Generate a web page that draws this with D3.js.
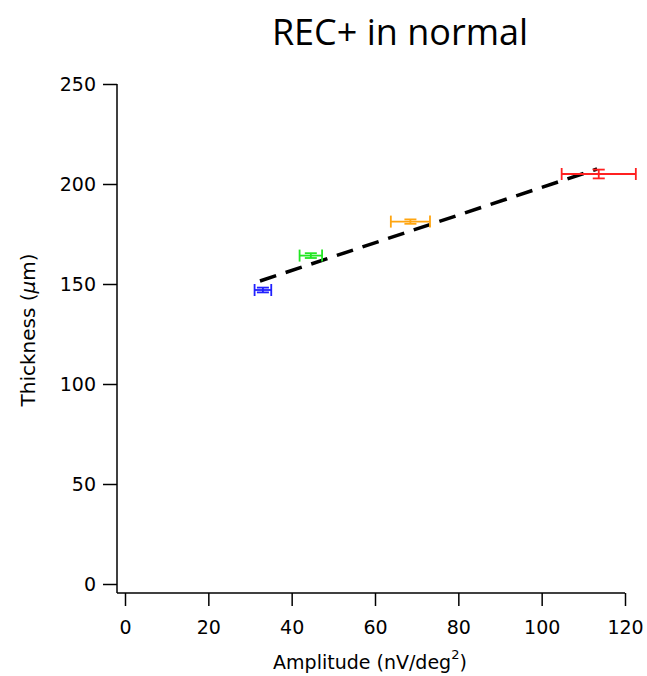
<!DOCTYPE html>
<html>
<head>
<meta charset="utf-8">
<script src="https://cdn.jsdelivr.net/npm/d3@7"></script>
<style>
  html, body { margin: 0; padding: 0; background: #fff; }
  svg text { font-family: "Open Sans", "Noto Sans", sans-serif; fill: #000; }
</style>
</head>
<body>
<svg id="chart" width="647" height="676"></svg>
<script>
// Data
const groups = ["blue", "green", "orange", "red"];
const amplitude = [33.1, 44.6, 68.5, 113.7];
const amplitudeErr = [2.0, 2.7, 4.7, 8.9];
const thickness = [147.0, 164.2, 181.2, 205.0];
const thicknessErr = [1.2, 1.2, 1.1, 2.2];
const colors = ["#2020ff", "#22e622", "#ffa510", "#ff2020"];
const fitX = [32.4, 113.3];
const fitY = [151.5, 207.5];
const xTicks = [0, 20, 40, 60, 80, 100, 120];
const yTicks = [0, 50, 100, 150, 200, 250];

const svg = d3.select("#chart");
const x = d3.scaleLinear().domain([0, 120]).range([125, 625]);
const y = d3.scaleLinear().domain([0, 250]).range([584, 84]);
const axisX0 = 117, axisY0 = 593;
const tickFont = "'DejaVu Sans', sans-serif";

// Title
svg.append("text").attr("x", 400).attr("y", 45)
  .attr("text-anchor", "middle").style("font-size", "36px")
  .text("REC+ in normal");

// Y axis
const yAxis = svg.append("g").attr("transform", `translate(${axisX0},0)`)
  .call(d3.axisLeft(y).tickValues(yTicks).tickSize(14).tickPadding(7).tickSizeOuter(0));
yAxis.select(".domain").remove();
yAxis.append("line").attr("x1", 0).attr("x2", 0).attr("y1", y(250)).attr("y2", axisY0)
  .attr("stroke", "#000").attr("stroke-width", 1.5);
yAxis.selectAll(".tick line").attr("stroke", "#000").attr("stroke-width", 1.5);
yAxis.selectAll(".tick text").style("font-size", "19px").style("font-family", tickFont).attr("fill", "#000");

// X axis
const xAxis = svg.append("g").attr("transform", `translate(0,${axisY0})`)
  .call(d3.axisBottom(x).tickValues(xTicks).tickSize(13).tickPadding(15).tickSizeOuter(0));
xAxis.select(".domain").remove();
xAxis.append("line").attr("x1", axisX0).attr("x2", x(120)).attr("y1", 0).attr("y2", 0)
  .attr("stroke", "#000").attr("stroke-width", 1.5);
xAxis.selectAll(".tick line").attr("stroke", "#000").attr("stroke-width", 1.5);
xAxis.selectAll(".tick text").style("font-size", "19px").style("font-family", tickFont).attr("fill", "#000");

// Axis titles
const xt = svg.append("text").attr("x", 370).attr("y", 669)
  .attr("text-anchor", "middle").style("font-size", "19px")
  .style("font-family", tickFont);
xt.append("tspan").text("Amplitude (nV/deg");
xt.append("tspan").attr("dy", -10).style("font-size", "13px").text("2");
xt.append("tspan").attr("dy", 10).text(")");

const yt = svg.append("text").attr("transform", `translate(35,330) rotate(-90)`)
  .attr("text-anchor", "middle").style("font-size", "20px")
  .style("font-family", tickFont);
yt.append("tspan").text("Thickness (");
yt.append("tspan").style("font-style", "italic").text("μ");
yt.append("tspan").text("m)");

// Fit line
svg.append("path")
  .datum(fitX.map((v, i) => [v, fitY[i]]))
  .attr("d", d3.line().x(d => x(d[0])).y(d => y(d[1])))
  .attr("fill", "none").attr("stroke", "#000").attr("stroke-width", 3.5)
  .attr("stroke-dasharray", "17,10");

// Error bars
const pts = groups.map((g, i) => ({g, xv: amplitude[i], xe: amplitudeErr[i], yv: thickness[i], ye: thicknessErr[i], c: colors[i]}));
const eb = svg.append("g").selectAll("g").data(pts).join("g")
  .attr("stroke", d => d.c).attr("stroke-width", 1.8).attr("fill", "none");
eb.append("line").attr("x1", d => x(d.xv - d.xe)).attr("x2", d => x(d.xv + d.xe))
  .attr("y1", d => y(d.yv)).attr("y2", d => y(d.yv));
eb.append("line").attr("x1", d => x(d.xv - d.xe)).attr("x2", d => x(d.xv - d.xe))
  .attr("y1", d => y(d.yv) - 6).attr("y2", d => y(d.yv) + 6);
eb.append("line").attr("x1", d => x(d.xv + d.xe)).attr("x2", d => x(d.xv + d.xe))
  .attr("y1", d => y(d.yv) - 6).attr("y2", d => y(d.yv) + 6);
eb.append("line").attr("x1", d => x(d.xv)).attr("x2", d => x(d.xv))
  .attr("y1", d => y(d.yv - d.ye)).attr("y2", d => y(d.yv + d.ye));
eb.append("line").attr("x1", d => x(d.xv) - 6).attr("x2", d => x(d.xv) + 6)
  .attr("y1", d => y(d.yv - d.ye)).attr("y2", d => y(d.yv - d.ye));
eb.append("line").attr("x1", d => x(d.xv) - 6).attr("x2", d => x(d.xv) + 6)
  .attr("y1", d => y(d.yv + d.ye)).attr("y2", d => y(d.yv + d.ye));
</script>
</body>
</html>
